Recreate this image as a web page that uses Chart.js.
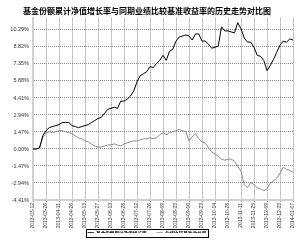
<!DOCTYPE html>
<html><head><meta charset="utf-8">
<script src="https://cdn.jsdelivr.net/npm/chart.js@4.4.0/dist/chart.umd.min.js"></script>
<style>html,body{margin:0;padding:0;background:#fff;}</style>
</head><body>
<canvas id="c" width="300" height="240"></canvas>
<script>
const titleText = '基金份额累计净值增长率与同期业绩比较基准收益率的历史走势对比图';
const seriesNames = ['基金份额累计净值增长率', '业绩比较基准收益率'];
const tickLabels = ['2013-03-12','2013-03-26','2013-04-11','2013-04-26','2013-05-13','2013-05-27','2013-06-13','2013-06-28','2013-07-12','2013-07-26','2013-08-09','2013-08-23','2013-09-06','2013-09-23','2013-10-14','2013-10-28','2013-11-11','2013-11-25','2013-12-09','2013-12-23','2014-01-07'];
const yTicks = [-4.41, -2.94, -1.47, 0, 1.47, 2.94, 4.41, 5.88, 7.35, 8.82, 10.29];
const fundValues = [0,0,0.09,1.14,1.58,1.85,1.94,2.02,2.11,2.29,2.29,2.29,2.02,1.94,1.85,1.94,2.02,2.11,2.29,2.46,
  2.64,2.73,3.08,3.43,3.52,3.61,3.52,4.14,4.14,4.31,4.58,5.02,5.81,6.34,6.51,6.69,7.13,7.04,7.39,7.66,
  8.10,7.66,8.45,8.63,9.33,9.68,9.77,9.86,9.77,9.42,9.95,9.95,9.33,9.33,9.07,8.71,8.80,8.89,10.56,10.21,
  10.21,10.12,10.04,10.92,10.39,9.60,9.24,9.24,8.80,8.10,8.01,7.66,6.78,7.22,7.75,8.36,8.98,9.33,9.24,9.51,9.42];
const benchValues = [0,0,0.09,0.97,1.41,1.50,1.41,1.50,1.58,1.58,1.50,1.41,1.32,1.14,0.97,0.88,0.70,0.62,0.44,0.26,
  0.18,0.18,0.26,0.35,0.35,0.44,0.35,0.26,0.44,0.53,0.62,0.70,0.70,0.79,0.88,0.88,0.97,0.88,0.97,1.23,
  1.41,1.23,1.41,1.50,1.58,1.67,1.58,1.50,0.70,1.06,1.32,0.88,0.62,0.53,0.09,-0.26,-0.44,-0.62,-0.88,-0.97,
  -0.88,-0.88,-1.06,-1.50,-1.94,-3.08,-3.35,-2.90,-3.08,-3.35,-3.43,-3.61,-3.43,-2.99,-2.73,-2.55,-2.11,-1.58,-1.76,-1.85,-2.02];

const perTick = (fundValues.length - 1) / (tickLabels.length - 1);
const categories = fundValues.map((_, i) => (i % perTick === 0 ? tickLabels[i / perTick] : ''));

const LEGEND_PAD = 10;
const LEGEND_SHIFT = -7;

const legendBox = {
  id: 'legendBox',
  afterLayout(chart) {
    const lg = chart.legend;
    if (!lg) return;
    lg.top += LEGEND_SHIFT;
    lg.bottom += LEGEND_SHIFT;
  },
  afterDraw(chart) {
    const lg = chart.legend;
    const boxes = lg && lg.legendHitBoxes;
    if (!boxes || !boxes.length) return;
    let l = Infinity, r = -Infinity, h = 0;
    boxes.forEach(b => { l = Math.min(l, b.left); r = Math.max(r, b.left + b.width); h = Math.max(h, b.height); });
    const t = lg.top + LEGEND_PAD;
    const ctx = chart.ctx;
    ctx.save();
    ctx.strokeStyle = '#000'; ctx.lineWidth = 1;
    ctx.strokeRect(Math.round(l - 2) + 0.5, Math.round(t - 2) + 0.5, Math.round(r - l + 4), Math.round(h + 3));
    ctx.restore();
  }
};

new Chart(document.getElementById('c'), {
  type: 'line',
  data: {
    labels: categories,
    datasets: [
      { label: seriesNames[0], data: fundValues, borderColor: '#000', backgroundColor: '#000', borderWidth: 1, pointRadius: 0, tension: 0 },
      { label: seriesNames[1], data: benchValues, borderColor: '#8c8c8c', backgroundColor: '#8c8c8c', borderWidth: 1, pointRadius: 0, tension: 0 }
    ]
  },
  options: {
    responsive: false, animation: false, devicePixelRatio: 1,
    layout: { padding: { left: 0, right: 6, top: 0, bottom: 0 } },
    plugins: {
      title: { display: true, text: titleText, color: '#000', font: { family: "'Noto Sans CJK SC'", size: 8, weight: 'bold' }, padding: { top: 6, bottom: 2 } },
      legend: { position: 'bottom', maxHeight: 12, labels: { color: '#000', font: { family: "'Noto Sans CJK SC'", size: 4.6, weight: 'bold' }, boxWidth: 6, boxHeight: 1, padding: LEGEND_PAD } },
      tooltip: { enabled: false }
    },
    scales: {
      x: {
        type: 'category',
        grid: { color: '#8a8a8a', lineWidth: 1, drawTicks: true, tickLength: 2, tickBorderDash: [1, 1] },
        border: { color: '#d0d0d0', width: 2, dash: [1, 1] },
        ticks: { autoSkip: false, maxRotation: 90, minRotation: 90, color: '#333', padding: 1, font: { family: 'Liberation Sans', size: 5 },
          callback: function(v, i) { const s = this.getLabelForValue(v); return s === '' ? null : s; } },
        afterFit: s => { s.height = 28; }
      },
      y: {
        type: 'linear', min: -4.41, max: 11.36,
        afterBuildTicks: s => { s.ticks = yTicks.map(v => ({ value: v })); },
        grid: { color: '#8a8a8a', lineWidth: 1, drawTicks: false },
        border: { color: '#d0d0d0', width: 2, dash: [1, 1] },
        ticks: { color: '#333', padding: 4, font: { family: 'Liberation Sans', size: 5.5 }, callback: v => v.toFixed(2) + '%' },
        afterFit: s => { s.width = 33; }
      }
    }
  },
  plugins: [legendBox]
});
</script>
</body></html>
